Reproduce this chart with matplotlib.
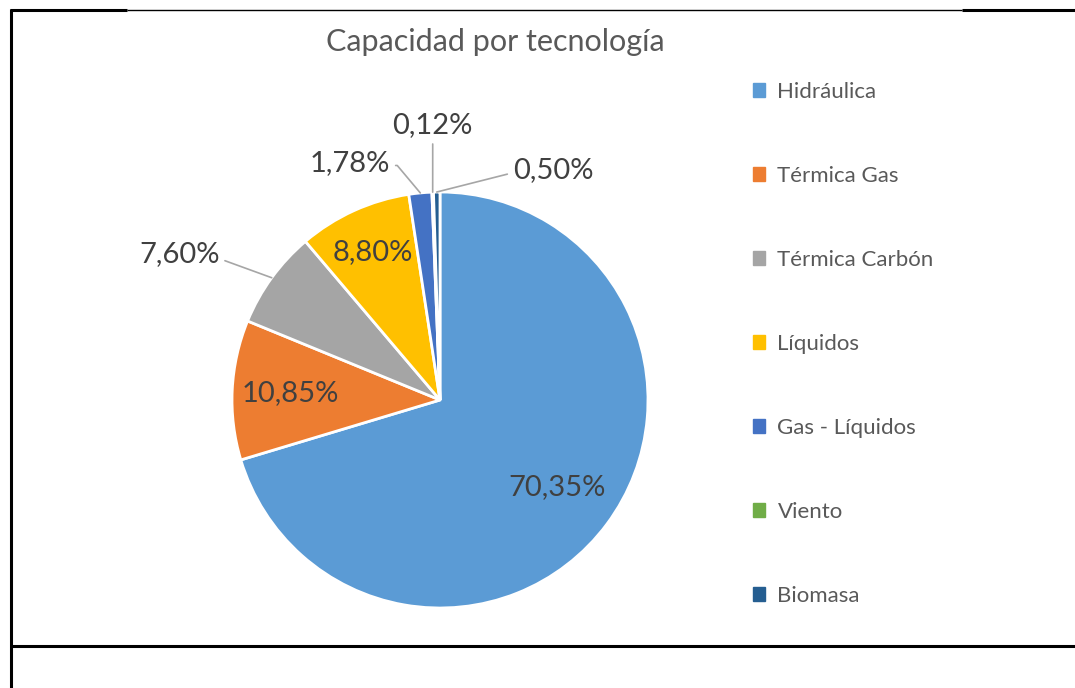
import numpy as np
import matplotlib.pyplot as plt
from matplotlib.lines import Line2D

plt.rcParams['font.family'] = ['Lato', 'DejaVu Sans']

labels = ['Hidráulica', 'Térmica Gas', 'Térmica Carbón', 'Líquidos',
          'Gas - Líquidos', 'Viento', 'Biomasa']
shares = [70.35, 10.85, 7.60, 8.80, 1.78, 0.12, 0.50]
colors = ['#5B9BD5', '#ED7D31', '#A5A5A5', '#FFC000',
          '#4472C4', '#70AD47', '#255E91']
pct_text = ['70,35%', '10,85%', '7,60%', '8,80%', '1,78%', '0,12%', '0,50%']

W, H = 1075, 688
fig = plt.figure(figsize=(W / 100, H / 100), dpi=100)

# pie axes: centre (440,400) px, radius 208 px
cx, cy, R = 440, 400, 208
ax = fig.add_axes([(cx - R) / W, (H - cy - R) / H, 2 * R / W, 2 * R / H])
wedges, _ = ax.pie(shares, colors=colors, startangle=90, counterclock=False,
                   radius=1, wedgeprops=dict(edgecolor='white', linewidth=2))
ax.set_xlim(-1, 1)
ax.set_ylim(-1, 1)
ax.set_aspect('equal')
ax.axis('off')

txtc = '#404040'

def mid(w):
    a = np.deg2rad((w.theta1 + w.theta2) / 2)
    return np.cos(a), np.sin(a)

# inside labels
inside = {0: 0.70, 1: 0.72, 3: 0.78}
for i, d in inside.items():
    x, y = mid(wedges[i])
    ax.text(d * x, d * y, pct_text[i], ha='center', va='center',
            fontsize=21, color=txtc)

# outside labels with leader lines (text positions in data units)
outside = {
    2: ((-1.06, 0.70), (1.0, 0.4), 'right', 'angle,angleA=0,angleB=160,rad=0'),
    4: ((-0.24, 1.14), (1.0, 0.4), 'right', 'angle,angleA=0,angleB=130,rad=0'),
    5: ((-0.035, 1.32), (0.5, 0.0), 'center', 'arc3'),
    6: ((0.35, 1.105), (0.0, 0.4), 'left', 'arc3'),
}
for i, (pos, rel, ha, cs) in outside.items():
    x, y = mid(wedges[i])
    ax.annotate(pct_text[i], xy=(x, y), xytext=pos, ha=ha, va='center',
                fontsize=21, color=txtc, annotation_clip=False,
                arrowprops=dict(arrowstyle='-', color='#a6a6a6', lw=1.2,
                                relpos=rel, shrinkA=2, shrinkB=0,
                                connectionstyle=cs))

fig.text(495 / W, 1 - 42 / H, 'Capacidad por tecnología', ha='center',
         va='center', fontsize=22, color='#595959')

handles = [plt.Rectangle((0, 0), 1, 1, color=c) for c in colors]
fig.legend(handles, labels, loc='upper left', bbox_to_anchor=(733 / W, 1 - 62 / H),
           frameon=False, fontsize=16, labelcolor='#595959', handlelength=0.55,
           handleheight=0.55, handletextpad=0.55, labelspacing=2.88)

# table frame
def hline(x0, x1, y, lw):
    fig.add_artist(Line2D([x0 / W, x1 / W], [1 - y / H, 1 - y / H],
                          transform=fig.transFigure, color='black', lw=lw,
                          solid_capstyle='butt'))

hline(10, 127, 10, 2.2)
hline(127, 962, 10, 1.0)
hline(962, W, 10, 2.2)
hline(10, W, 646, 2.2)
fig.add_artist(Line2D([11 / W, 11 / W], [1 - 9 / H, -0.01], transform=fig.transFigure,
                      color='black', lw=2.2, solid_capstyle='butt'))

fig.savefig('out.png', dpi=100, facecolor='white')
